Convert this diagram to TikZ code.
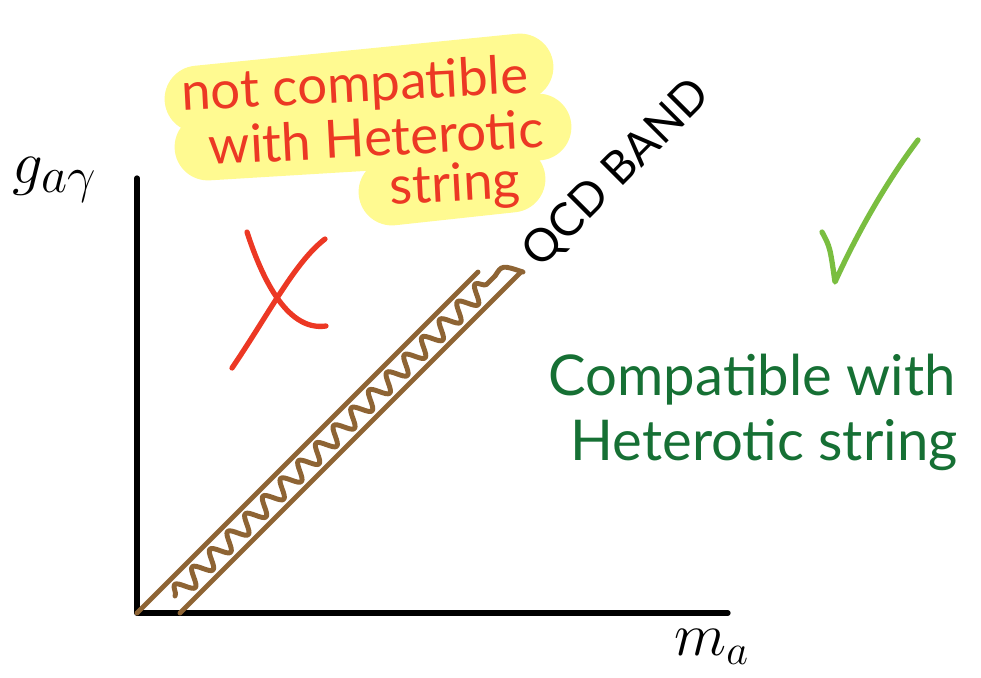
\documentclass[tikz,border=0pt]{standalone}
\usepackage{fontspec}
\setsansfont{Lato}
\usetikzlibrary{decorations.pathmorphing}

\definecolor{bandbrown}{RGB}{142,100,52}
\definecolor{xred}{RGB}{236,56,36}
\definecolor{okgreen}{RGB}{22,112,52}
\definecolor{tickgreen}{RGB}{122,190,64}
\definecolor{marker}{RGB}{255,250,145}

\tikzset{
  axisline/.style={line width=1.5pt, black},
  bandline/.style={line width=1.4pt, bandbrown},
  redtext/.style={font=\sffamily\fontsize{15}{17}\selectfont, text=xred, inner sep=0pt, rotate=3},
  greentext/.style={font=\sffamily\fontsize{16}{19}\selectfont, text=okgreen, inner sep=0pt, anchor=west},
  highlight/.style={line width=19pt, marker, line cap=round}
}

\begin{document}
\begin{tikzpicture}[line cap=round, line join=round]

  %% ---- Parameters ----
  \pgfmathsetmacro{\ox}{1.37}
  \pgfmathsetmacro{\oy}{0.64}
  \pgfmathsetmacro{\gap}{0.43}
  \pgfmathsetmacro{\bandtop}{4.05}

  \useasboundingbox (0,0) rectangle (9.81,6.77);

  %% ---- Yellow marker behind the red note ----
  \draw[highlight] (1.98,5.78) -- (5.20,6.10);
  \draw[highlight] (2.08,5.30) -- (5.38,5.50);
  \draw[highlight] (3.92,4.85) -- (5.12,4.98);

  %% ---- Axes ----
  \draw[axisline] (\ox,4.99) -- (\ox,\oy) -- (7.28,\oy);
  \node (gay) at (0.55,4.97) {\fontsize{19}{21}\selectfont $g_{a\gamma}$};
  \node (ma) at (7.12,0.30) {\fontsize{18}{20}\selectfont $m_a$};

  %% ---- QCD band ----
  \draw[bandline] (\ox,\oy) -- ({\ox+\bandtop-\oy},\bandtop);
  \draw[bandline] ({\ox+\gap},\oy) -- ({\ox+\gap+\bandtop-\oy},\bandtop);
  \draw[bandline, decorate,
        decoration={snake, segment length=0.25cm, amplitude=0.085cm}]
    (1.75,0.81) -- (4.95,4.01);
  \draw[bandline] (4.95,4.01) .. controls (5.02,4.12) .. (5.23,\bandtop);
  \node[rotate=45, font=\sffamily\fontsize{13}{15}\selectfont] (qcd)
    at (6.17,5.03) {QCD BAND};

  %% ---- Excluded side ----
  \draw[line width=1.5pt, xred]
    (2.32,3.09) .. controls (2.70,3.65) and (2.95,4.15) .. (3.25,4.38);
  \draw[line width=1.5pt, xred]
    (2.47,4.45) .. controls (2.60,4.05) and (2.85,3.45) .. (3.26,3.51);
  \node[redtext] (nline1) at (3.55,5.90) {not compatible};
  \node[redtext] (nline2) at (3.76,5.40) {with Heterotic};
  \node[redtext] (nline3) at (4.55,4.90) {string};

  %% ---- Allowed side ----
  \draw[line width=1.5pt, tickgreen]
    (8.22,4.45) .. controls (8.30,4.30) .. (8.35,3.95)
    .. controls (8.60,4.50) and (8.90,5.00) .. (9.18,5.37);
  \node[greentext] (yline1) at (5.48,2.97) {Compatible with};
  \node[greentext] (yline2) at (5.70,2.32) {Heterotic string};

\end{tikzpicture}
\end{document}
